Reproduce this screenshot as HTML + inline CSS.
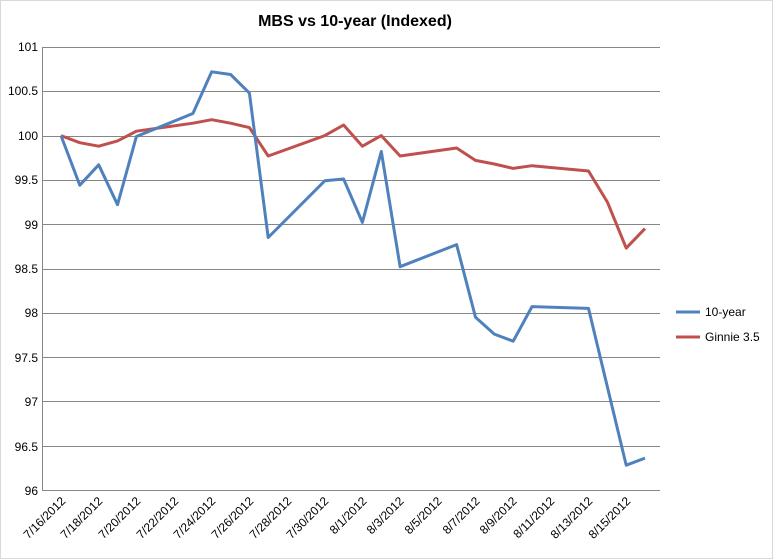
<!DOCTYPE html>
<html><head><style>
body{margin:0;background:#fff}
svg{display:block;font-family:"Liberation Sans",Arial,sans-serif}
</style></head><body>
<svg width="773" height="559" xmlns="http://www.w3.org/2000/svg">
<rect x="0.5" y="0.5" width="772" height="558" fill="#fff" stroke="#d9d9d9"/>
<text x="355" y="26" font-size="16" font-weight="bold" text-anchor="middle">MBS vs 10-year (Indexed)</text>
<g id="grid" stroke="#868686" stroke-width="1"></g>
<polyline id="g" fill="none" stroke="#c0504d" stroke-width="3" stroke-linejoin="round"/>
<polyline id="t" fill="none" stroke="#4f81bd" stroke-width="3" stroke-linejoin="round"/>
<line x1="676" y1="312" x2="700" y2="312" stroke="#4f81bd" stroke-width="3"/>
<text x="705" y="316" font-size="12">10-year</text>
<line x1="676" y1="337" x2="700" y2="337" stroke="#c0504d" stroke-width="3"/>
<text x="705" y="341" font-size="12">Ginnie 3.5</text>
</svg>
<script>
var ns="http://www.w3.org/2000/svg";
function Y(v){return 490-(v-96)*88.6;}
function X(d){return 61+d*18.84;}
var grid=document.getElementById('grid');
for(var i=0;i<=10;i++){var v=96+i*0.5,y=Math.round(Y(v))+0.5;
var l=document.createElementNS(ns,'line');l.setAttribute('x1',42);l.setAttribute('x2',660);l.setAttribute('y1',y);l.setAttribute('y2',y);grid.appendChild(l);}
var ax=document.createElementNS(ns,'line');ax.setAttribute('x1',42.5);ax.setAttribute('x2',42.5);ax.setAttribute('y1',Y(101));ax.setAttribute('y2',490);grid.appendChild(ax);
var tk=[[0,100],[1,99.44],[2,99.67],[3,99.22],[4,99.99],[7,100.25],[8,100.72],[9,100.69],[10,100.48],[11,98.85],[14,99.49],[15,99.51],[16,99.02],[17,99.82],[18,98.52],[21,98.77],[22,97.95],[23,97.76],[24,97.68],[25,98.07],[28,98.05],[30,96.28],[31,96.36]];
var gn=[[0,100],[1,99.92],[2,99.88],[3,99.94],[4,100.05],[7,100.14],[8,100.18],[9,100.14],[10,100.09],[11,99.77],[14,100.0],[15,100.12],[16,99.88],[17,100.0],[18,99.77],[21,99.86],[22,99.72],[23,99.68],[24,99.63],[25,99.66],[28,99.60],[29,99.25],[30,98.73],[31,98.95]];
function pts(a){return a.map(function(p){return X(p[0]).toFixed(1)+','+Y(p[1]).toFixed(1)}).join(' ');}
document.getElementById('t').setAttribute('points',pts(tk));
document.getElementById('g').setAttribute('points',pts(gn));
</script>
<div style="position:absolute;left:0;top:0;width:773px;height:559px;pointer-events:none;font-family:'Liberation Sans',Arial,sans-serif;font-size:12px">
<div style="position:absolute;right:735px;top:40px">101</div>
<div style="position:absolute;right:735px;top:84px">100.5</div>
<div style="position:absolute;right:735px;top:129px">100</div>
<div style="position:absolute;right:735px;top:173px">99.5</div>
<div style="position:absolute;right:735px;top:218px">99</div>
<div style="position:absolute;right:735px;top:262px">98.5</div>
<div style="position:absolute;right:735px;top:306px">98</div>
<div style="position:absolute;right:735px;top:351px">97.5</div>
<div style="position:absolute;right:735px;top:395px">97</div>
<div style="position:absolute;right:735px;top:440px">96.5</div>
<div style="position:absolute;right:735px;top:484px">96</div>
<div id="xl"></div>
</div>
<script>
var xs=["7/16/2012","7/18/2012","7/20/2012","7/22/2012","7/24/2012","7/26/2012","7/28/2012","7/30/2012","8/1/2012","8/3/2012","8/5/2012","8/7/2012","8/9/2012","8/11/2012","8/13/2012","8/15/2012"];
var h='';
for(var i=0;i<xs.length;i++){var x=X(i*2)-3;
h+='<div style="position:absolute;right:'+(773-x)+'px;top:494px;white-space:nowrap;transform:rotate(-45deg);transform-origin:100% 0">'+xs[i]+'</div>';}
document.getElementById('xl').innerHTML=h;
</script>
</body></html>
